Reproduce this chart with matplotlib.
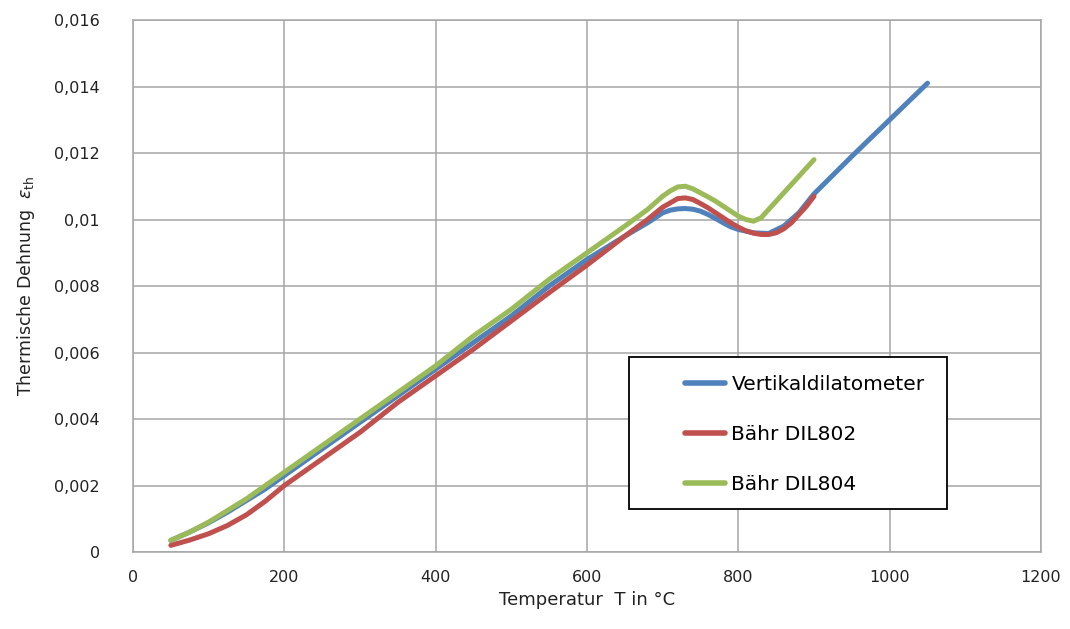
import matplotlib
matplotlib.use('Agg')
import matplotlib.pyplot as plt
from matplotlib.patches import Rectangle
from matplotlib.ticker import FuncFormatter

# Vertikaldilatometer
t_vert = [50, 75, 100, 125, 150, 175, 200, 250, 300, 350, 400, 450, 500, 550, 600, 650,
          680, 700, 710, 720, 730, 740, 750, 760, 770, 780, 790, 800, 820, 840, 860,
          880, 900, 950, 1000, 1050]
eps_vert = [0.00035, 0.0006, 0.00088, 0.0012, 0.00155, 0.0019, 0.0023, 0.0031, 0.0039,
            0.0047, 0.0055, 0.0063, 0.0071, 0.0080, 0.0088, 0.0095, 0.0099, 0.0102,
            0.01028, 0.01032, 0.01033, 0.01031, 0.01025, 0.01015, 0.01003, 0.0099,
            0.00978, 0.0097, 0.0096, 0.00958, 0.0098, 0.0102, 0.01077, 0.0119, 0.0130,
            0.0141]

# Baehr DIL802
t_802 = [50, 75, 100, 125, 150, 175, 200, 250, 300, 350, 400, 450, 500, 550, 600, 650,
         680, 700, 710, 720, 730, 740, 750, 760, 770, 780, 790, 800, 810, 820, 830, 840,
         850, 860, 870, 880, 890, 900]
eps_802 = [0.0002, 0.00036, 0.00055, 0.0008, 0.00112, 0.00153, 0.0020, 0.0028, 0.0036,
           0.0045, 0.0053, 0.0061, 0.00695, 0.0078, 0.00863, 0.0095, 0.0100, 0.01037,
           0.0105, 0.01063, 0.01065, 0.0106, 0.01048, 0.01035, 0.0102, 0.01005, 0.0099,
           0.00977, 0.00966, 0.00959, 0.00955, 0.00955, 0.0096, 0.00972, 0.0099, 0.01015,
           0.0104, 0.0107]

# Baehr DIL804
t_804 = [50, 75, 100, 125, 150, 175, 200, 250, 300, 350, 400, 450, 500, 550, 600, 650,
         680, 700, 710, 720, 730, 740, 750, 760, 770, 780, 790, 800, 810, 820, 830, 840,
         850, 860, 870, 880, 890, 900]
eps_804 = [0.00035, 0.0006, 0.0009, 0.00125, 0.0016, 0.002, 0.0024, 0.0032, 0.0040,
           0.0048, 0.0056, 0.0065, 0.0073, 0.0082, 0.0090, 0.0098, 0.0103, 0.0107,
           0.01086, 0.01098, 0.0110, 0.01092, 0.0108, 0.01068, 0.01055, 0.0104, 0.01025,
           0.0101, 0.0100, 0.00995, 0.01005, 0.0103, 0.01055, 0.0108, 0.01105, 0.0113,
           0.01155, 0.0118]

x_ticks = [0, 200, 400, 600, 800, 1000, 1200]
y_ticks = [0, 0.002, 0.004, 0.006, 0.008, 0.01, 0.012, 0.014, 0.016]

fig = plt.figure(figsize=(10.7, 6.29), dpi=100)
ax = fig.add_axes([0.1243, 0.1224, 0.8486, 0.8458])

lw = 3.6
ax.plot(t_vert, eps_vert, color='#4F81BD', lw=lw, label='Vertikaldilatometer', solid_capstyle='round', solid_joinstyle='round')
ax.plot(t_802, eps_802, color='#C0504D', lw=lw, label='Bähr DIL802', solid_capstyle='round', solid_joinstyle='round')
ax.plot(t_804, eps_804, color='#9BBB59', lw=lw, label='Bähr DIL804', solid_capstyle='round', solid_joinstyle='round')

ax.set_xlim(0, 1200)
ax.set_ylim(0, 0.016)
ax.set_xticks(x_ticks)
ax.set_yticks(y_ticks)

def comma(v, pos):
    s = ('%.3f' % v).rstrip('0').rstrip('.')
    return s.replace('.', ',')

ax.yaxis.set_major_formatter(FuncFormatter(comma))
ax.grid(True, color='#A6A6A6', lw=1.1)
ax.set_axisbelow(True)
for sp in ax.spines.values():
    sp.set_color('#A6A6A6')
    sp.set_linewidth(1.1)
ax.tick_params(axis='both', length=0, labelsize=11.5, colors='#222222')
ax.tick_params(axis='x', pad=13)
ax.tick_params(axis='y', pad=24)

ax.set_xlabel('Temperatur  T in °C', fontsize=13, color='#222222', labelpad=4)
ax.set_ylabel(r'Thermische Dehnung  $\varepsilon_{\mathrm{th}}$', fontsize=12.5, color='#222222', labelpad=12)

# legend box
box = Rectangle((0.546, 0.081), 0.351, 0.286, transform=ax.transAxes, facecolor='white',
                edgecolor='black', lw=1.3, zorder=5)
ax.add_patch(box)
leg = ax.legend(loc='center left', bbox_to_anchor=(0.608, 0.221), fontsize=14.5,
                frameon=False, handlelength=2.0, labelspacing=1.55, borderpad=0,
                handletextpad=0.3, borderaxespad=0)
leg.set_zorder(6)
for line in leg.get_lines():
    line.set_linewidth(4)

fig.savefig('out.png', dpi=100)
